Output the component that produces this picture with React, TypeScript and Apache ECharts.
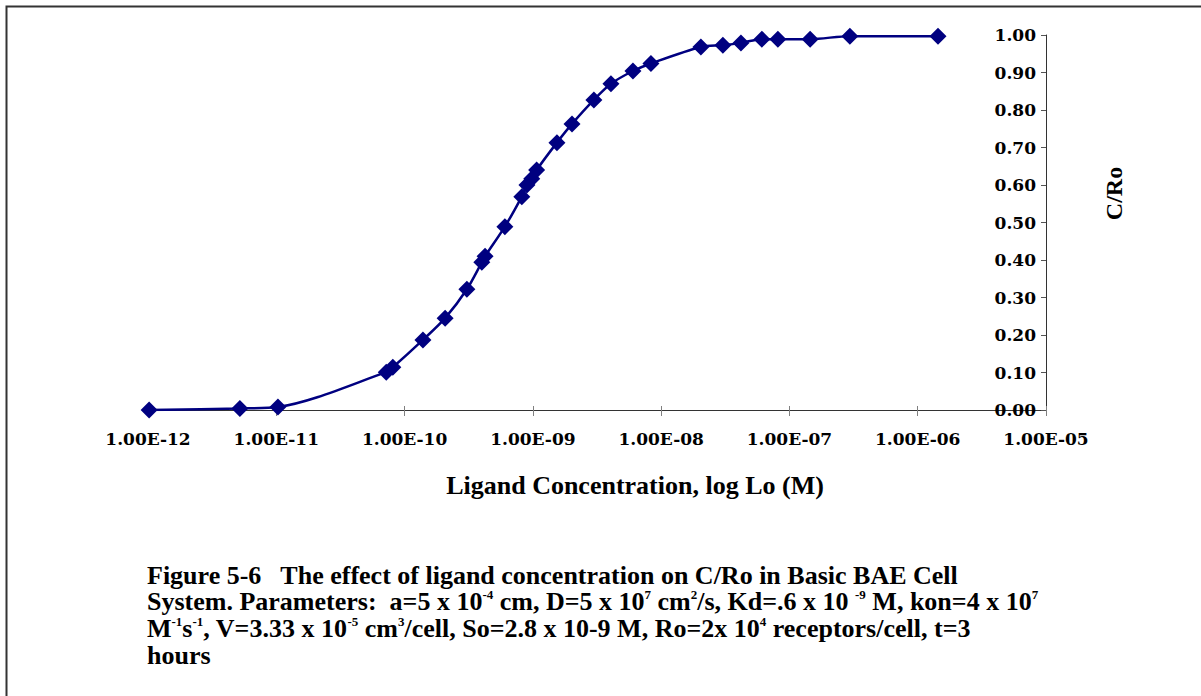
import React, { useEffect, useRef } from "react";
import * as echarts from "echarts";

// Ligand concentration (M) and C/Ro values
const ligandConc = [
  1.02e-12, 5.2e-12, 1.03e-11, 7.2e-11, 8.1e-11, 1.39e-10, 2.07e-10, 3.06e-10,
  4.0e-10, 4.24e-10, 6.05e-10, 8.2e-10, 8.99e-10, 9.8e-10, 1.07e-9, 1.54e-9,
  2.02e-9, 2.99e-9, 4.06e-9, 6.03e-9, 8.33e-9, 2.04e-8, 3.03e-8, 4.19e-8,
  6.1e-8, 8.13e-8, 1.45e-7, 2.96e-7, 1.44e-6,
];
const cRo = [
  0.0, 0.004, 0.008, 0.101, 0.114, 0.187, 0.245, 0.322, 0.394, 0.41, 0.489,
  0.569, 0.6, 0.617, 0.64, 0.713, 0.763, 0.827, 0.87, 0.904, 0.924, 0.968,
  0.973, 0.979, 0.989, 0.989, 0.989, 0.997, 0.997,
];

const xTickLabels = [
  "1.00E-12", "1.00E-11", "1.00E-10", "1.00E-09",
  "1.00E-08", "1.00E-07", "1.00E-06", "1.00E-05",
];

const xAxisTitle = "Ligand Concentration, log Lo (M)";
const yAxisTitle = "C/Ro";

const captionLines = [
  "{n|Figure 5-6   The effect of ligand concentration on C/Ro in Basic BAE Cell}",
  "{n|System. Parameters:  a=5 x 10}{s|-4}{n| cm, D=5 x 10}{s|7}{n| cm}{s|2}{n|/s, Kd=.6 x 10 }{s|-9}{n| M, kon=4 x 10}{s|7}",
  "{n|M}{s|-1}{n|s}{s|-1}{n|, V=3.33 x 10}{s|-5}{n| cm}{s|3}{n|/cell, So=2.8 x 10-9 M, Ro=2x 10}{s|4}{n| receptors/cell, t=3}",
  "{n|hours}",
];

const NAVY = "#000080";
const TICK_FONT = "DejaVu Serif";
const TITLE_FONT = "Liberation Serif";

export default function App() {
  const ref = useRef<HTMLDivElement>(null);

  useEffect(() => {
    if (!ref.current) return;
    const chart = echarts.init(ref.current, undefined, { renderer: "svg" });
    const data = ligandConc.map((x, i) => [x, cRo[i]]);
    const xFormatter = (v: number) => {
      const idx = Math.round(Math.log10(v)) + 12;
      return xTickLabels[idx] ?? "";
    };

    chart.setOption({
      animation: false,
      backgroundColor: "#ffffff",
      grid: { left: 148, right: 155, top: 35, bottom: 286, containLabel: false },
      xAxis: [
        {
          type: "log",
          logBase: 10,
          min: 1e-12,
          max: 1e-5,
          splitNumber: 7,
          name: xAxisTitle,
          nameLocation: "middle",
          nameGap: 62,
          nameTextStyle: {
            fontFamily: TITLE_FONT,
            fontWeight: "bold",
            fontSize: 26,
            color: "#000",
            padding: [0, 0, 0, 76],
          },
          axisLine: { show: true, onZero: false, lineStyle: { color: "#333", width: 1 } },
          axisTick: { show: true, inside: false, length: 6, lineStyle: { color: "#808080" } },
          minorTick: { show: false },
          splitLine: { show: false },
          minorSplitLine: { show: false },
          axisLabel: {
            formatter: xFormatter,
            fontFamily: TICK_FONT,
            fontWeight: "bold",
            fontSize: 17,
            color: "#000",
            margin: 20,
            showMinLabel: true,
            showMaxLabel: true,
          },
        },
        {
          type: "log",
          logBase: 10,
          min: 1e-12,
          max: 1e-5,
          splitNumber: 7,
          position: "bottom",
          axisLine: { show: false },
          axisTick: { show: true, inside: true, length: 4, lineStyle: { color: "#808080" } },
          axisLabel: { show: false },
          splitLine: { show: false },
        },
      ],
      yAxis: {
        type: "value",
        position: "right",
        min: 0,
        max: 1,
        interval: 0.1,
        name: yAxisTitle,
        nameLocation: "middle",
        nameGap: 56,
        nameRotate: 90,
        nameTextStyle: {
          fontFamily: TITLE_FONT,
          fontWeight: "bold",
          fontSize: 24,
          color: "#000",
          padding: [0, 0, 0, 58],
        },
        axisLine: { show: true, lineStyle: { color: "#333", width: 1 } },
        axisTick: { show: true, inside: true, length: 5, lineStyle: { color: "#555" } },
        splitLine: { show: false },
        axisLabel: {
          inside: true,
          margin: 10,
          formatter: (v: number) => v.toFixed(2),
          fontFamily: TICK_FONT,
          fontWeight: "bold",
          fontSize: 17,
          color: "#000",
        },
      },
      series: [
        {
          type: "line",
          data,
          smooth: 0.3,
          symbol: "diamond",
          symbolSize: 17,
          showAllSymbol: true,
          lineStyle: { color: NAVY, width: 2.5 },
          itemStyle: { color: NAVY },
          z: 3,
        },
      ],
      graphic: [
        {
          type: "rect",
          silent: true,
          shape: { x: 6.5, y: 6.5, width: 1400, height: 900 },
          style: { fill: "none", stroke: "#333", lineWidth: 2 },
        },
        {
          type: "text",
          left: 147,
          top: 562,
          style: {
            text: captionLines.join("\n"),
            rich: {
              n: {
                fontFamily: TITLE_FONT,
                fontWeight: "bold",
                fontSize: 26,
                lineHeight: 26.7,
                color: "#000",
              },
              s: {
                fontFamily: TITLE_FONT,
                fontWeight: "bold",
                fontSize: 13,
                verticalAlign: "top",
                color: "#000",
              },
            },
          },
        },
      ],
    });

    return () => chart.dispose();
  }, []);

  return (
    <div
      ref={ref}
      style={{ position: "fixed", left: 0, top: 0, width: 1201, height: 696 }}
    />
  );
}
